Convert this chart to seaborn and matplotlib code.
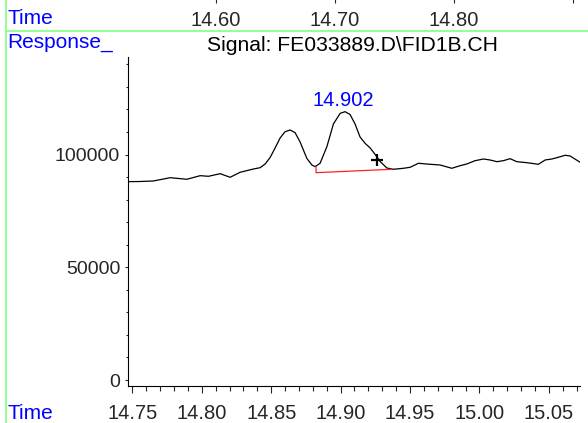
import matplotlib
matplotlib.use("Agg")
import matplotlib.pyplot as plt
from matplotlib.lines import Line2D
from matplotlib.ticker import MultipleLocator
import seaborn as sns

# Signal trace (time in min, response in counts)
times = [14.7471, 14.7555, 14.7651, 14.7772, 14.7892, 14.7988, 14.8048, 14.8132, 14.8204, 14.8276,
         14.8372, 14.8420, 14.8456, 14.8492, 14.8528, 14.8564, 14.8600, 14.8636, 14.8672, 14.8708,
         14.8757, 14.8793, 14.8816, 14.8852, 14.8901, 14.8948, 14.8997, 14.9032, 14.9068, 14.9104,
         14.9140, 14.9176, 14.9213, 14.9249, 14.9285, 14.9333, 14.9380, 14.9453, 14.9501, 14.9561,
         14.9645, 14.9717, 14.9801, 14.9861, 14.9909, 14.9969, 15.0029, 15.0077, 15.0126, 15.0173,
         15.0221, 15.0270, 15.0342, 15.0425, 15.0474, 15.0522, 15.0569, 15.0618, 15.0654, 15.0726]
response = [87950, 88030, 88260, 89720, 89010, 90610, 90340, 91490, 89900, 92120,
            93580, 94150, 95800, 98680, 102890, 107330, 110120, 110870, 109680, 105550,
            98240, 95350, 94600, 96110, 103470, 113540, 118280, 118990, 117750, 113540,
            107770, 104980, 102890, 100010, 96900, 94020, 93450, 93890, 94330, 96110,
            95660, 95350, 93890, 95040, 95800, 97260, 98010, 97570, 96820, 97260,
            98150, 96820, 96370, 95660, 97570, 98010, 98770, 99660, 99340, 96550]

# integration baseline of the labelled peak
base_t = [14.8823, 14.8823, 14.9369]
base_v = [94900, 91940, 93450]

peak_t = 14.902
peak_v = 118990
mark_t = 14.9261
mark_v = 97570

top_ticks = [14.60, 14.70, 14.80, 14.90]
top_labels = ['14.60', '14.70', '14.80', '']
bottom_ticks = [14.75, 14.80, 14.85, 14.90, 14.95, 15.00, 15.05]
y_ticks = [0, 50000, 100000]

sns.set_style('white')
plt.rcParams['font.family'] = ['Liberation Sans', 'DejaVu Sans']

W, H = 588, 423
fig = plt.figure(figsize=(W / 100, H / 100), dpi=100)

# main plot
ax = fig.add_axes([128.3 / W, 37 / H, (580 - 128.3) / W, (386 - 57) / H])
sns.lineplot(x=times, y=response, color='black', linewidth=0.9, sort=False, ax=ax)
ax.plot(base_t, base_v, color='#ff2020', linewidth=0.9)
ax.plot([mark_t], [mark_v], marker='+', color='black', markersize=9, markeredgewidth=1.6)
ax.annotate('14.902', (peak_t, peak_v), xytext=(0, 8), textcoords='offset points',
            ha='center', va='center', color='#0000ff', fontsize=14.5)

ax.set_xlim(14.747, 15.0725)
ax.set_ylim(-2660, 143240)
ax.set_xticks(bottom_ticks)
ax.set_xticklabels([f'{t:.2f}' for t in bottom_ticks])
ax.xaxis.set_minor_locator(MultipleLocator(0.01))
ax.set_yticks(y_ticks)
ax.set_yticklabels([str(v) for v in y_ticks])
ax.yaxis.set_minor_locator(MultipleLocator(10000))
ax.tick_params(axis='x', which='major', length=5.2, width=0.8, direction='out',
               labelsize=14.5, pad=7.5, bottom=True)
ax.tick_params(axis='x', which='minor', length=3.8, width=0.8, direction='out', bottom=True)
ax.tick_params(axis='y', which='major', length=2.4, width=0.8, direction='out',
               labelsize=14, pad=3.4, left=True)
ax.tick_params(axis='y', which='minor', length=1.2, width=0.8, direction='out', left=True)
for side in ['top', 'right']:
    ax.spines[side].set_visible(False)
for side in ['left', 'bottom']:
    ax.spines[side].set_color('black')
    ax.spines[side].set_linewidth(0.8)
ax.set_xlabel('')
ax.set_ylabel('')
ax.grid(False)

# time axis of the panel above (cut off at the top)
ax_top = fig.add_axes([6 / W, 1 + 3 / H, (W - 6) / W, 0.01])
ax_top.set_xlim(14.424, 14.9128)
ax_top.set_xticks(top_ticks)
ax_top.set_xticklabels(top_labels)
ax_top.set_yticks([])
ax_top.tick_params(axis='x', length=4.3, width=0.8, direction='out', labelsize=14.5,
                   pad=5.5, bottom=True)
for side in ['top', 'right', 'left', 'bottom']:
    ax_top.spines[side].set_visible(False)
ax_top.patch.set_alpha(0)

# frame lines and labels
green = '#80ff80'
fig.add_artist(Line2D([6 / W, 6 / W], [0, 1], color=green, linewidth=1.2))
fig.add_artist(Line2D([6 / W, 1], [1 - 31 / H, 1 - 31 / H], color=green, linewidth=1.2))

fig.text(7.5 / W, 1 - 19 / H, 'Time', color='#0000ff', fontsize=15, ha='left', va='center')
fig.text(7.5 / W, 1 - 42 / H, 'Response_', color='#0000ff', fontsize=15, ha='left', va='center')
fig.text(7.5 / W, 1 - 413.5 / H, 'Time', color='#0000ff', fontsize=15, ha='left', va='center')
fig.text(352.5 / W, 1 - 45.5 / H, 'Signal: FE033889.D\\FID1B.CH', color='black',
         fontsize=15.2, ha='center', va='center')

fig.savefig('out.png', dpi=100)
